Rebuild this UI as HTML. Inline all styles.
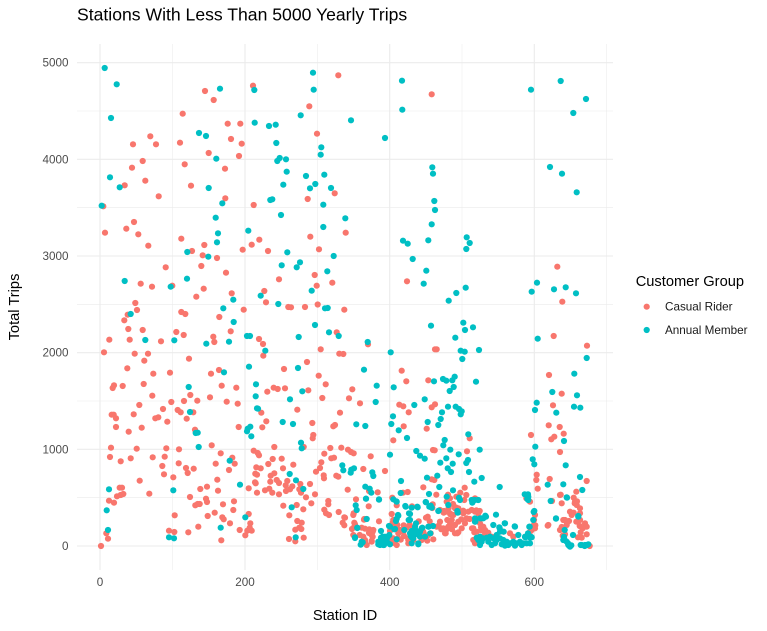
<!DOCTYPE html>
<html><head><meta charset="utf-8"><style>
html,body{margin:0;padding:0;background:#fff;}
svg{display:block;}
text{font-family:"Liberation Sans",sans-serif;}
</style></head><body>
<svg width="767" height="631" viewBox="0 0 767 631" xmlns="http://www.w3.org/2000/svg">
<rect width="767" height="631" fill="#fff"/>
<g stroke="#EBEBEB" stroke-width="0.55" fill="none">
<line x1="77" x2="613" y1="497.7" y2="497.7"/><line x1="77" x2="613" y1="401" y2="401"/><line x1="77" x2="613" y1="304.3" y2="304.3"/><line x1="77" x2="613" y1="207.7" y2="207.7"/><line x1="77" x2="613" y1="111" y2="111"/>
<line y1="44" y2="570" x1="172.3" x2="172.3"/><line y1="44" y2="570" x1="317.6" x2="317.6"/><line y1="44" y2="570" x1="462" x2="462"/><line y1="44" y2="570" x1="606.3" x2="606.3"/>
</g>
<g stroke="#EBEBEB" stroke-width="1.1" fill="none">
<line x1="77" x2="613" y1="546" y2="546"/><line x1="77" x2="613" y1="449.3" y2="449.3"/><line x1="77" x2="613" y1="352.7" y2="352.7"/><line x1="77" x2="613" y1="256" y2="256"/><line x1="77" x2="613" y1="159.3" y2="159.3"/><line x1="77" x2="613" y1="62.7" y2="62.7"/>
<line y1="44" y2="570" x1="100" x2="100"/><line y1="44" y2="570" x1="245" x2="245"/><line y1="44" y2="570" x1="389.7" x2="389.7"/><line y1="44" y2="570" x1="534.3" x2="534.3"/>
</g>
<g fill="#F8766D">
<circle cx="205" cy="91" r="3.1"/><circle cx="213.7" cy="100" r="3.1"/><circle cx="253" cy="85.7" r="3.1"/><circle cx="182.7" cy="113.7" r="3.1"/><circle cx="227.7" cy="123.7" r="3.1"/><circle cx="240.3" cy="123.7" r="3.1"/><circle cx="150.3" cy="136.3" r="3.1"/><circle cx="133" cy="144.3" r="3.1"/><circle cx="156" cy="144.3" r="3.1"/><circle cx="180" cy="142.7" r="3.1"/><circle cx="231" cy="139" r="3.1"/><circle cx="241.7" cy="143.7" r="3.1"/><circle cx="208.7" cy="153" r="3.1"/><circle cx="239" cy="156" r="3.1"/><circle cx="142.7" cy="161" r="3.1"/><circle cx="132" cy="167.7" r="3.1"/><circle cx="184.7" cy="164.3" r="3.1"/><circle cx="225" cy="168.7" r="3.1"/><circle cx="124.7" cy="185.3" r="3.1"/><circle cx="145.3" cy="180.7" r="3.1"/><circle cx="191" cy="185.7" r="3.1"/><circle cx="158.7" cy="196.3" r="3.1"/><circle cx="225.3" cy="198.3" r="3.1"/><circle cx="103.3" cy="206.3" r="3.1"/><circle cx="253.7" cy="205" r="3.1"/><circle cx="134" cy="222" r="3.1"/><circle cx="126.3" cy="228.7" r="3.1"/><circle cx="105" cy="232.7" r="3.1"/><circle cx="138.3" cy="234.3" r="3.1"/><circle cx="148.3" cy="245.7" r="3.1"/><circle cx="181.3" cy="238.7" r="3.1"/><circle cx="204.3" cy="245" r="3.1"/><circle cx="242.7" cy="249.7" r="3.1"/><circle cx="251.7" cy="244.7" r="3.1"/><circle cx="192" cy="251" r="3.1"/><circle cx="202.7" cy="255.3" r="3.1"/><circle cx="217" cy="258" r="3.1"/><circle cx="165.7" cy="267.3" r="3.1"/><circle cx="201.3" cy="266" r="3.1"/><circle cx="226" cy="272.7" r="3.1"/><circle cx="140.7" cy="283.7" r="3.1"/><circle cx="152" cy="286.7" r="3.1"/><circle cx="172.3" cy="285.7" r="3.1"/><circle cx="203.7" cy="288.7" r="3.1"/><circle cx="196.3" cy="296.7" r="3.1"/><circle cx="231.7" cy="293.3" r="3.1"/><circle cx="135.3" cy="303" r="3.1"/>
<circle cx="137" cy="310" r="3.1"/><circle cx="127.7" cy="314.7" r="3.1"/><circle cx="124.3" cy="320.3" r="3.1"/><circle cx="181.3" cy="312" r="3.1"/><circle cx="185.3" cy="314" r="3.1"/><circle cx="243.7" cy="309.7" r="3.1"/><circle cx="219.3" cy="317" r="3.1"/><circle cx="128.3" cy="329" r="3.1"/><circle cx="142.7" cy="330" r="3.1"/><circle cx="176.3" cy="332" r="3.1"/><circle cx="183.7" cy="335" r="3.1"/><circle cx="230.7" cy="331.3" r="3.1"/><circle cx="213.3" cy="336.7" r="3.1"/><circle cx="109.3" cy="339.7" r="3.1"/><circle cx="129.7" cy="339.7" r="3.1"/><circle cx="161" cy="341.3" r="3.1"/><circle cx="214.3" cy="342" r="3.1"/><circle cx="104" cy="352.3" r="3.1"/><circle cx="134.7" cy="353.7" r="3.1"/><circle cx="148" cy="353.7" r="3.1"/><circle cx="144.3" cy="360.7" r="3.1"/><circle cx="189" cy="358.7" r="3.1"/><circle cx="127.3" cy="368.3" r="3.1"/><circle cx="153.3" cy="373.7" r="3.1"/><circle cx="170" cy="372.7" r="3.1"/><circle cx="211" cy="373.7" r="3.1"/><circle cx="219" cy="370" r="3.1"/><circle cx="114" cy="385.3" r="3.1"/><circle cx="112.7" cy="388" r="3.1"/><circle cx="122.7" cy="386" r="3.1"/><circle cx="143.7" cy="384" r="3.1"/><circle cx="221.7" cy="385.7" r="3.1"/><circle cx="236.3" cy="387.7" r="3.1"/><circle cx="152.3" cy="395.7" r="3.1"/><circle cx="190.3" cy="395" r="3.1"/><circle cx="210" cy="397.3" r="3.1"/><circle cx="171.3" cy="402" r="3.1"/><circle cx="184" cy="401" r="3.1"/><circle cx="197.3" cy="400.7" r="3.1"/><circle cx="226.7" cy="401.7" r="3.1"/><circle cx="237.7" cy="403.7" r="3.1"/><circle cx="139.3" cy="405" r="3.1"/><circle cx="163" cy="409" r="3.1"/><circle cx="177.7" cy="410" r="3.1"/><circle cx="180.7" cy="412.3" r="3.1"/><circle cx="193.3" cy="412.3" r="3.1"/><circle cx="111.7" cy="414.7" r="3.1"/><circle cx="113.7" cy="414.7" r="3.1"/><circle cx="116" cy="418.3" r="3.1"/><circle cx="133.7" cy="414.3" r="3.1"/><circle cx="155.3" cy="418.3" r="3.1"/><circle cx="158.3" cy="417.3" r="3.1"/><circle cx="186.7" cy="418.7" r="3.1"/><circle cx="167.3" cy="421.7" r="3.1"/><circle cx="116" cy="427" r="3.1"/><circle cx="128.7" cy="431.7" r="3.1"/><circle cx="141.7" cy="427.7" r="3.1"/><circle cx="195" cy="429.7" r="3.1"/><circle cx="238.7" cy="427" r="3.1"/><circle cx="111" cy="447.7" r="3.1"/><circle cx="136.7" cy="448.7" r="3.1"/><circle cx="166.3" cy="448.3" r="3.1"/><circle cx="179" cy="449.3" r="3.1"/><circle cx="211.7" cy="445.3" r="3.1"/><circle cx="253.7" cy="450.7" r="3.1"/><circle cx="110" cy="457" r="3.1"/><circle cx="120.7" cy="461.3" r="3.1"/><circle cx="130.7" cy="458.3" r="3.1"/><circle cx="152.7" cy="457.3" r="3.1"/><circle cx="164.7" cy="456.7" r="3.1"/><circle cx="178.7" cy="463.3" r="3.1"/><circle cx="162.3" cy="466" r="3.1"/><circle cx="186" cy="468" r="3.1"/><circle cx="193.7" cy="468.7" r="3.1"/><circle cx="187.7" cy="473" r="3.1"/><circle cx="164" cy="474.3" r="3.1"/><circle cx="173.3" cy="477.3" r="3.1"/><circle cx="220.7" cy="453.3" r="3.1"/><circle cx="215.7" cy="463.7" r="3.1"/><circle cx="232.3" cy="457.7" r="3.1"/><circle cx="234.7" cy="463.7" r="3.1"/><circle cx="229" cy="470" r="3.1"/><circle cx="255.3" cy="473.7" r="3.1"/><circle cx="139.7" cy="480.7" r="3.1"/><circle cx="217.3" cy="479.7" r="3.1"/><circle cx="255.7" cy="483.3" r="3.1"/><circle cx="119.7" cy="487.7" r="3.1"/><circle cx="122" cy="487.7" r="3.1"/><circle cx="117" cy="496.3" r="3.1"/><circle cx="120.7" cy="495" r="3.1"/><circle cx="123.3" cy="494" r="3.1"/><circle cx="149.3" cy="493.7" r="3.1"/><circle cx="200.3" cy="489" r="3.1"/><circle cx="207" cy="486.7" r="3.1"/><circle cx="218" cy="490.7" r="3.1"/><circle cx="248.7" cy="488.3" r="3.1"/><circle cx="190" cy="497" r="3.1"/><circle cx="206" cy="498.7" r="3.1"/><circle cx="207" cy="502" r="3.1"/><circle cx="195.3" cy="505.3" r="3.1"/><circle cx="197.7" cy="504" r="3.1"/><circle cx="199.7" cy="504" r="3.1"/><circle cx="223" cy="504.3" r="3.1"/><circle cx="234" cy="501.3" r="3.1"/><circle cx="109" cy="500.7" r="3.1"/><circle cx="114" cy="502.7" r="3.1"/><circle cx="233.3" cy="510" r="3.1"/><circle cx="174.7" cy="515.3" r="3.1"/><circle cx="214.7" cy="512.7" r="3.1"/><circle cx="207.7" cy="516" r="3.1"/><circle cx="222.3" cy="517.3" r="3.1"/><circle cx="223.7" cy="519.3" r="3.1"/><circle cx="230" cy="523.3" r="3.1"/><circle cx="248.7" cy="514" r="3.1"/><circle cx="250.3" cy="523.3" r="3.1"/><circle cx="249.7" cy="527.7" r="3.1"/><circle cx="251.7" cy="530.7" r="3.1"/><circle cx="247.3" cy="530.7" r="3.1"/><circle cx="245.3" cy="535.3" r="3.1"/><circle cx="198.3" cy="526.7" r="3.1"/><circle cx="239.7" cy="530" r="3.1"/><circle cx="106.3" cy="533.3" r="3.1"/><circle cx="108" cy="538.7" r="3.1"/><circle cx="169" cy="530.7" r="3.1"/><circle cx="174.3" cy="532" r="3.1"/><circle cx="188.3" cy="532.3" r="3.1"/><circle cx="221.3" cy="540.3" r="3.1"/><circle cx="101" cy="546" r="3.1"/>
<circle cx="338.3" cy="75.3" r="3.1"/><circle cx="309.3" cy="106.3" r="3.1"/><circle cx="317" cy="133.7" r="3.1"/><circle cx="431.7" cy="94.3" r="3.1"/><circle cx="334.7" cy="193.3" r="3.1"/><circle cx="307.7" cy="199" r="3.1"/><circle cx="345.7" cy="232.7" r="3.1"/><circle cx="259.3" cy="239.7" r="3.1"/><circle cx="310.3" cy="236.7" r="3.1"/><circle cx="268" cy="251" r="3.1"/><circle cx="319" cy="249.3" r="3.1"/><circle cx="314.7" cy="275" r="3.1"/><circle cx="279" cy="279.3" r="3.1"/><circle cx="316.7" cy="285.7" r="3.1"/><circle cx="332.3" cy="282.7" r="3.1"/><circle cx="407" cy="281.3" r="3.1"/><circle cx="264.3" cy="291" r="3.1"/><circle cx="266" cy="302.3" r="3.1"/><circle cx="317.7" cy="304.5" r="3.1"/>
<circle cx="288.3" cy="307" r="3.1"/><circle cx="291" cy="307.3" r="3.1"/><circle cx="305" cy="307" r="3.1"/><circle cx="344.3" cy="309.7" r="3.1"/><circle cx="336.7" cy="332.3" r="3.1"/><circle cx="259" cy="339" r="3.1"/><circle cx="263" cy="344" r="3.1"/><circle cx="263.3" cy="355.7" r="3.1"/><circle cx="368" cy="344.3" r="3.1"/><circle cx="320.7" cy="349.3" r="3.1"/><circle cx="339.3" cy="353.7" r="3.1"/><circle cx="343.3" cy="354" r="3.1"/><circle cx="435" cy="349.3" r="3.1"/><circle cx="307" cy="362" r="3.1"/><circle cx="284" cy="369" r="3.1"/><circle cx="401.7" cy="370.7" r="3.1"/><circle cx="318.7" cy="375.7" r="3.1"/><circle cx="406.3" cy="381.3" r="3.1"/><circle cx="428.3" cy="380.3" r="3.1"/><circle cx="267.3" cy="391.7" r="3.1"/><circle cx="273.7" cy="387.7" r="3.1"/><circle cx="277.7" cy="389" r="3.1"/><circle cx="285" cy="388.3" r="3.1"/><circle cx="308.3" cy="390.3" r="3.1"/><circle cx="325.7" cy="384.3" r="3.1"/><circle cx="352.3" cy="389.3" r="3.1"/><circle cx="322.3" cy="398" r="3.1"/><circle cx="349" cy="398.3" r="3.1"/><circle cx="360" cy="403.3" r="3.1"/><circle cx="297.3" cy="409.7" r="3.1"/><circle cx="261.3" cy="412.7" r="3.1"/><circle cx="340" cy="412.7" r="3.1"/><circle cx="399.3" cy="404.7" r="3.1"/><circle cx="403.3" cy="406.3" r="3.1"/><circle cx="408.7" cy="412.3" r="3.1"/><circle cx="431.7" cy="407.3" r="3.1"/><circle cx="266.3" cy="421.3" r="3.1"/><circle cx="262.3" cy="427.3" r="3.1"/><circle cx="312.3" cy="423" r="3.1"/><circle cx="333.3" cy="426.3" r="3.1"/><circle cx="335" cy="425" r="3.1"/><circle cx="403.7" cy="426.3" r="3.1"/><circle cx="426.7" cy="428.7" r="3.1"/><circle cx="313.3" cy="435" r="3.1"/><circle cx="312.7" cy="438.3" r="3.1"/><circle cx="393.3" cy="440.3" r="3.1"/><circle cx="303.7" cy="447" r="3.1"/><circle cx="274.3" cy="447" r="3.1"/><circle cx="257.7" cy="453" r="3.1"/><circle cx="259" cy="455.3" r="3.1"/><circle cx="330.3" cy="448" r="3.1"/><circle cx="341.3" cy="447.7" r="3.1"/><circle cx="348" cy="449.7" r="3.1"/><circle cx="351" cy="452" r="3.1"/><circle cx="353.7" cy="453.3" r="3.1"/><circle cx="324.3" cy="453.7" r="3.1"/><circle cx="370.7" cy="456.3" r="3.1"/><circle cx="433" cy="450" r="3.1"/><circle cx="272.7" cy="459" r="3.1"/><circle cx="281.7" cy="458.7" r="3.1"/><circle cx="331.3" cy="458.3" r="3.1"/><circle cx="334" cy="457.7" r="3.1"/><circle cx="321.3" cy="462.3" r="3.1"/><circle cx="320" cy="468" r="3.1"/><circle cx="268.3" cy="464" r="3.1"/><circle cx="256.3" cy="467.3" r="3.1"/><circle cx="260.7" cy="468.3" r="3.1"/><circle cx="283" cy="468.3" r="3.1"/><circle cx="293.3" cy="464.7" r="3.1"/><circle cx="363.3" cy="469" r="3.1"/><circle cx="385" cy="471" r="3.1"/><circle cx="336.3" cy="475.7" r="3.1"/><circle cx="338.3" cy="476.7" r="3.1"/><circle cx="316" cy="471.7" r="3.1"/><circle cx="323.7" cy="475.3" r="3.1"/><circle cx="324" cy="478.3" r="3.1"/><circle cx="274.3" cy="473.3" r="3.1"/><circle cx="270.7" cy="475.7" r="3.1"/><circle cx="257" cy="474.7" r="3.1"/><circle cx="255" cy="482.3" r="3.1"/><circle cx="276.7" cy="480" r="3.1"/><circle cx="270.3" cy="481.7" r="3.1"/><circle cx="279" cy="483" r="3.1"/><circle cx="287.3" cy="481" r="3.1"/><circle cx="285.7" cy="485.3" r="3.1"/><circle cx="300.3" cy="484" r="3.1"/><circle cx="310" cy="484" r="3.1"/><circle cx="431.7" cy="479.3" r="3.1"/><circle cx="257" cy="492.7" r="3.1"/><circle cx="265" cy="490.3" r="3.1"/><circle cx="269.3" cy="488.7" r="3.1"/><circle cx="272.3" cy="492.7" r="3.1"/><circle cx="279" cy="494.3" r="3.1"/><circle cx="286" cy="491" r="3.1"/><circle cx="290" cy="489.3" r="3.1"/><circle cx="292.3" cy="486.3" r="3.1"/><circle cx="299.3" cy="489.3" r="3.1"/><circle cx="301" cy="492.7" r="3.1"/><circle cx="315" cy="494.3" r="3.1"/><circle cx="347.7" cy="489.7" r="3.1"/><circle cx="369" cy="491" r="3.1"/><circle cx="377.7" cy="492.3" r="3.1"/><circle cx="407.7" cy="492" r="3.1"/><circle cx="403" cy="492.7" r="3.1"/><circle cx="423.3" cy="487.3" r="3.1"/><circle cx="306" cy="497.3" r="3.1"/><circle cx="392.3" cy="497.7" r="3.1"/><circle cx="283.3" cy="505.7" r="3.1"/><circle cx="296.7" cy="505" r="3.1"/><circle cx="303.3" cy="509.3" r="3.1"/><circle cx="311.3" cy="503.3" r="3.1"/><circle cx="328.3" cy="501" r="3.1"/><circle cx="328.3" cy="504.3" r="3.1"/><circle cx="368.7" cy="506.3" r="3.1"/><circle cx="412" cy="506.3" r="3.1"/><circle cx="432.3" cy="508" r="3.1"/><circle cx="324.3" cy="509.7" r="3.1"/><circle cx="326" cy="513.3" r="3.1"/><circle cx="329" cy="515" r="3.1"/><circle cx="289.3" cy="515.3" r="3.1"/><circle cx="338.7" cy="512" r="3.1"/><circle cx="344.3" cy="517.3" r="3.1"/><circle cx="342.7" cy="522.7" r="3.1"/><circle cx="344.3" cy="525.3" r="3.1"/><circle cx="353.7" cy="513.3" r="3.1"/><circle cx="297.3" cy="521" r="3.1"/><circle cx="301.7" cy="522.7" r="3.1"/><circle cx="299.3" cy="527.7" r="3.1"/><circle cx="295.3" cy="529.7" r="3.1"/><circle cx="301.3" cy="529" r="3.1"/><circle cx="354.3" cy="522.7" r="3.1"/><circle cx="364" cy="519.7" r="3.1"/><circle cx="379" cy="521.3" r="3.1"/><circle cx="392.7" cy="522.7" r="3.1"/><circle cx="390" cy="527" r="3.1"/><circle cx="403.7" cy="525.3" r="3.1"/><circle cx="418.7" cy="521.3" r="3.1"/><circle cx="427.7" cy="516.7" r="3.1"/><circle cx="429.7" cy="521.3" r="3.1"/><circle cx="352" cy="529" r="3.1"/><circle cx="353.3" cy="535" r="3.1"/><circle cx="359.7" cy="535" r="3.1"/><circle cx="365" cy="528.7" r="3.1"/><circle cx="369" cy="533" r="3.1"/><circle cx="371.7" cy="535" r="3.1"/><circle cx="373.3" cy="530" r="3.1"/><circle cx="365" cy="540" r="3.1"/><circle cx="371.7" cy="540.7" r="3.1"/><circle cx="390" cy="531" r="3.1"/><circle cx="391.7" cy="541.3" r="3.1"/><circle cx="396.7" cy="545" r="3.1"/><circle cx="400.7" cy="539.7" r="3.1"/><circle cx="289" cy="539" r="3.1"/><circle cx="295.3" cy="541.3" r="3.1"/><circle cx="303.7" cy="537.7" r="3.1"/><circle cx="400.3" cy="530" r="3.1"/><circle cx="406.7" cy="527.7" r="3.1"/><circle cx="409.7" cy="525" r="3.1"/><circle cx="413" cy="529.3" r="3.1"/><circle cx="420" cy="534.3" r="3.1"/><circle cx="423.3" cy="531.7" r="3.1"/><circle cx="428.3" cy="535" r="3.1"/><circle cx="430.7" cy="533.3" r="3.1"/><circle cx="404" cy="536" r="3.1"/><circle cx="408.3" cy="540" r="3.1"/><circle cx="413.3" cy="540" r="3.1"/><circle cx="421.7" cy="540" r="3.1"/><circle cx="427.3" cy="540.7" r="3.1"/><circle cx="433.3" cy="539.3" r="3.1"/><circle cx="394.3" cy="543" r="3.1"/>
<circle cx="356" cy="499.3" r="3.1"/><circle cx="345" cy="517.7" r="3.1"/><circle cx="353.3" cy="515" r="3.1"/><circle cx="354" cy="527.3" r="3.1"/><circle cx="355" cy="524.3" r="3.1"/><circle cx="364.3" cy="519" r="3.1"/><circle cx="361.7" cy="527.7" r="3.1"/><circle cx="369.3" cy="529.3" r="3.1"/><circle cx="370" cy="533.3" r="3.1"/><circle cx="372.7" cy="531.7" r="3.1"/><circle cx="363.3" cy="536.7" r="3.1"/><circle cx="372.7" cy="536.7" r="3.1"/><circle cx="371.7" cy="541.7" r="3.1"/><circle cx="365" cy="542" r="3.1"/><circle cx="366.7" cy="545" r="3.1"/><circle cx="396.7" cy="505.3" r="3.1"/><circle cx="391.7" cy="514" r="3.1"/><circle cx="393.3" cy="520" r="3.1"/><circle cx="393.3" cy="525" r="3.1"/><circle cx="397.3" cy="525" r="3.1"/><circle cx="403.3" cy="531.7" r="3.1"/><circle cx="398.3" cy="533.3" r="3.1"/><circle cx="393.3" cy="538.3" r="3.1"/><circle cx="398.3" cy="538.3" r="3.1"/><circle cx="390.7" cy="541.7" r="3.1"/><circle cx="415" cy="534.3" r="3.1"/><circle cx="408.3" cy="538.3" r="3.1"/><circle cx="408.3" cy="543.3" r="3.1"/><circle cx="426" cy="517.7" r="3.1"/><circle cx="421.7" cy="538.3" r="3.1"/><circle cx="432.7" cy="504.3" r="3.1"/>
<circle cx="557.3" cy="266.7" r="3.1"/><circle cx="562.3" cy="301.7" r="3.1"/><circle cx="553.7" cy="336" r="3.1"/><circle cx="587" cy="345.7" r="3.1"/><circle cx="436.7" cy="349.3" r="3.1"/><circle cx="549" cy="375" r="3.1"/><circle cx="561.7" cy="393.7" r="3.1"/><circle cx="435" cy="404.3" r="3.1"/><circle cx="553" cy="405.3" r="3.1"/><circle cx="548.7" cy="425.3" r="3.1"/><circle cx="559.7" cy="427" r="3.1"/><circle cx="531" cy="435" r="3.1"/><circle cx="551.3" cy="439.3" r="3.1"/><circle cx="554.3" cy="436.7" r="3.1"/><circle cx="563.7" cy="433.7" r="3.1"/><circle cx="469.7" cy="438.3" r="3.1"/><circle cx="434.7" cy="450.3" r="3.1"/><circle cx="560" cy="452" r="3.1"/><circle cx="467" cy="451.3" r="3.1"/><circle cx="536.7" cy="474.7" r="3.1"/><circle cx="536.3" cy="480" r="3.1"/><circle cx="549.7" cy="479" r="3.1"/><circle cx="586.7" cy="481" r="3.1"/><circle cx="434.3" cy="480" r="3.1"/><circle cx="537.7" cy="488.7" r="3.1"/><circle cx="576.3" cy="491.7" r="3.1"/><circle cx="560.7" cy="494.7" r="3.1"/><circle cx="436.3" cy="494.7" r="3.1"/><circle cx="448" cy="494.7" r="3.1"/><circle cx="464.7" cy="487.7" r="3.1"/><circle cx="466.3" cy="495" r="3.1"/><circle cx="460.3" cy="492.7" r="3.1"/><circle cx="456.3" cy="496.7" r="3.1"/><circle cx="526.3" cy="498.3" r="3.1"/><circle cx="552" cy="501" r="3.1"/><circle cx="573.7" cy="497.7" r="3.1"/><circle cx="577" cy="501.3" r="3.1"/><circle cx="574.7" cy="503.3" r="3.1"/><circle cx="580" cy="508.3" r="3.1"/><circle cx="573.7" cy="512.7" r="3.1"/><circle cx="453" cy="504" r="3.1"/><circle cx="455.7" cy="507.3" r="3.1"/><circle cx="448.7" cy="508" r="3.1"/><circle cx="443.7" cy="512.7" r="3.1"/><circle cx="450.3" cy="514.3" r="3.1"/><circle cx="458.7" cy="512.3" r="3.1"/><circle cx="463.3" cy="510.7" r="3.1"/><circle cx="476.3" cy="510.3" r="3.1"/><circle cx="479.7" cy="511" r="3.1"/><circle cx="467" cy="518.7" r="3.1"/><circle cx="469.7" cy="519" r="3.1"/><circle cx="461.3" cy="519.3" r="3.1"/><circle cx="569" cy="521" r="3.1"/><circle cx="565" cy="520" r="3.1"/><circle cx="576.3" cy="521.7" r="3.1"/><circle cx="534" cy="520" r="3.1"/><circle cx="535.3" cy="525.3" r="3.1"/><circle cx="547.7" cy="525.7" r="3.1"/><circle cx="561.7" cy="527" r="3.1"/><circle cx="579.7" cy="526" r="3.1"/><circle cx="472" cy="528.3" r="3.1"/><circle cx="474.3" cy="532.3" r="3.1"/><circle cx="481" cy="527.3" r="3.1"/><circle cx="481.3" cy="530.3" r="3.1"/><circle cx="484.7" cy="535" r="3.1"/><circle cx="476.3" cy="540" r="3.1"/><circle cx="438.7" cy="525.7" r="3.1"/><circle cx="441.3" cy="529.3" r="3.1"/><circle cx="446.7" cy="529.3" r="3.1"/><circle cx="452" cy="529.3" r="3.1"/><circle cx="457.3" cy="533.3" r="3.1"/><circle cx="445.7" cy="533.3" r="3.1"/><circle cx="562.7" cy="535.7" r="3.1"/><circle cx="580.7" cy="532.3" r="3.1"/><circle cx="578" cy="537.3" r="3.1"/><circle cx="589.7" cy="546" r="3.1"/>
<circle cx="440" cy="510" r="3.1"/><circle cx="444" cy="511" r="3.1"/><circle cx="446.7" cy="511.7" r="3.1"/><circle cx="450" cy="513.3" r="3.1"/><circle cx="453.3" cy="515" r="3.1"/><circle cx="447.3" cy="520" r="3.1"/><circle cx="451.7" cy="520" r="3.1"/><circle cx="450" cy="524.3" r="3.1"/><circle cx="455" cy="525" r="3.1"/><circle cx="458.3" cy="521.7" r="3.1"/><circle cx="440" cy="521.7" r="3.1"/><circle cx="436.7" cy="526.7" r="3.1"/><circle cx="443.3" cy="528.3" r="3.1"/><circle cx="448.3" cy="526.7" r="3.1"/><circle cx="445" cy="533.3" r="3.1"/><circle cx="455" cy="533.3" r="3.1"/><circle cx="458.3" cy="532.3" r="3.1"/><circle cx="461.7" cy="528.3" r="3.1"/><circle cx="465" cy="523.3" r="3.1"/><circle cx="466.7" cy="518.3" r="3.1"/><circle cx="468.3" cy="511.7" r="3.1"/><circle cx="463.3" cy="513.3" r="3.1"/><circle cx="471.7" cy="510" r="3.1"/><circle cx="475" cy="511.7" r="3.1"/><circle cx="458.3" cy="508.3" r="3.1"/><circle cx="455" cy="508.3" r="3.1"/><circle cx="450" cy="498.3" r="3.1"/><circle cx="446.7" cy="501.7" r="3.1"/><circle cx="464.3" cy="500" r="3.1"/><circle cx="475" cy="498.3" r="3.1"/>
<circle cx="478.3" cy="513.3" r="3.1"/><circle cx="473.3" cy="528.3" r="3.1"/><circle cx="476.7" cy="531.7" r="3.1"/><circle cx="480" cy="523.3" r="3.1"/><circle cx="483.3" cy="526.7" r="3.1"/><circle cx="485" cy="530" r="3.1"/><circle cx="488.3" cy="532.7" r="3.1"/><circle cx="491.7" cy="536.7" r="3.1"/><circle cx="503.3" cy="531.7" r="3.1"/><circle cx="510" cy="533.3" r="3.1"/><circle cx="473.3" cy="540" r="3.1"/><circle cx="475" cy="543.3" r="3.1"/><circle cx="513.3" cy="536.7" r="3.1"/><circle cx="530" cy="501.7" r="3.1"/><circle cx="535" cy="515" r="3.1"/><circle cx="534" cy="525" r="3.1"/><circle cx="531.7" cy="530" r="3.1"/><circle cx="535" cy="528.3" r="3.1"/><circle cx="530" cy="531.7" r="3.1"/><circle cx="560" cy="495" r="3.1"/><circle cx="561.7" cy="503.3" r="3.1"/><circle cx="575" cy="501.7" r="3.1"/><circle cx="576.7" cy="505" r="3.1"/><circle cx="570" cy="511.7" r="3.1"/><circle cx="571.7" cy="515" r="3.1"/><circle cx="580" cy="513.3" r="3.1"/><circle cx="580" cy="520" r="3.1"/><circle cx="585" cy="523.3" r="3.1"/><circle cx="586.7" cy="526.7" r="3.1"/><circle cx="582.7" cy="528.3" r="3.1"/><circle cx="586.7" cy="534.3" r="3.1"/><circle cx="581.7" cy="537.7" r="3.1"/><circle cx="563.3" cy="520" r="3.1"/><circle cx="566.7" cy="521.7" r="3.1"/><circle cx="566.7" cy="525" r="3.1"/><circle cx="560" cy="530" r="3.1"/><circle cx="565" cy="534.3" r="3.1"/><circle cx="548.3" cy="525" r="3.1"/><circle cx="588.3" cy="545" r="3.1"/>
</g>
<g fill="#00BFC4">
<circle cx="104.7" cy="68" r="3.1"/><circle cx="116.7" cy="84.3" r="3.1"/><circle cx="220" cy="88.7" r="3.1"/><circle cx="254.3" cy="90" r="3.1"/><circle cx="111" cy="118" r="3.1"/><circle cx="254.7" cy="122.7" r="3.1"/><circle cx="199" cy="133" r="3.1"/><circle cx="206" cy="136" r="3.1"/><circle cx="216.3" cy="158.7" r="3.1"/><circle cx="110" cy="177.3" r="3.1"/><circle cx="119.7" cy="187.3" r="3.1"/><circle cx="208.7" cy="188" r="3.1"/><circle cx="222.3" cy="203.3" r="3.1"/><circle cx="101.7" cy="205.7" r="3.1"/><circle cx="215.7" cy="217.7" r="3.1"/><circle cx="218" cy="233.3" r="3.1"/><circle cx="248.3" cy="230.7" r="3.1"/><circle cx="217" cy="242.3" r="3.1"/><circle cx="187.3" cy="252" r="3.1"/><circle cx="208.3" cy="256.7" r="3.1"/><circle cx="124.7" cy="281" r="3.1"/><circle cx="170.7" cy="286.7" r="3.1"/><circle cx="187" cy="278.7" r="3.1"/><circle cx="233.3" cy="299.7" r="3.1"/>
<circle cx="130.7" cy="314" r="3.1"/><circle cx="223.3" cy="308.3" r="3.1"/><circle cx="233.7" cy="322" r="3.1"/><circle cx="247" cy="336" r="3.1"/><circle cx="250" cy="336" r="3.1"/><circle cx="145.3" cy="340" r="3.1"/><circle cx="174.3" cy="340.3" r="3.1"/><circle cx="206.3" cy="343.7" r="3.1"/><circle cx="229" cy="341.7" r="3.1"/><circle cx="224" cy="372.3" r="3.1"/><circle cx="249" cy="366.7" r="3.1"/><circle cx="188.7" cy="387" r="3.1"/><circle cx="256" cy="384.3" r="3.1"/><circle cx="255.7" cy="396.3" r="3.1"/><circle cx="190" cy="412" r="3.1"/><circle cx="257" cy="408.3" r="3.1"/><circle cx="195.7" cy="433" r="3.1"/><circle cx="197.7" cy="432.7" r="3.1"/><circle cx="247.7" cy="428.7" r="3.1"/><circle cx="250.3" cy="426.7" r="3.1"/><circle cx="247" cy="431.3" r="3.1"/><circle cx="251.3" cy="436.3" r="3.1"/><circle cx="198.7" cy="447" r="3.1"/><circle cx="229.7" cy="460.7" r="3.1"/><circle cx="240" cy="484.7" r="3.1"/><circle cx="109" cy="489.3" r="3.1"/><circle cx="173.3" cy="490.3" r="3.1"/><circle cx="106.7" cy="510.3" r="3.1"/><circle cx="245.3" cy="517.3" r="3.1"/><circle cx="220.7" cy="527.7" r="3.1"/><circle cx="108" cy="530" r="3.1"/><circle cx="169" cy="537.3" r="3.1"/><circle cx="174" cy="538.3" r="3.1"/>
<circle cx="313" cy="72.7" r="3.1"/><circle cx="313.7" cy="89.7" r="3.1"/><circle cx="300.7" cy="115.3" r="3.1"/><circle cx="269" cy="126" r="3.1"/><circle cx="275.7" cy="124.7" r="3.1"/><circle cx="351" cy="120.3" r="3.1"/><circle cx="276.3" cy="143" r="3.1"/><circle cx="321.3" cy="147.3" r="3.1"/><circle cx="320.7" cy="154.7" r="3.1"/><circle cx="385" cy="138" r="3.1"/><circle cx="402" cy="80.7" r="3.1"/><circle cx="402.3" cy="109.7" r="3.1"/><circle cx="277.3" cy="161" r="3.1"/><circle cx="279.7" cy="158" r="3.1"/><circle cx="286" cy="159.3" r="3.1"/><circle cx="286.7" cy="171.7" r="3.1"/><circle cx="306" cy="176" r="3.1"/><circle cx="324.3" cy="174.7" r="3.1"/><circle cx="283.3" cy="184.7" r="3.1"/><circle cx="310" cy="188.3" r="3.1"/><circle cx="315.3" cy="184" r="3.1"/><circle cx="331" cy="188" r="3.1"/><circle cx="270.3" cy="200" r="3.1"/><circle cx="272.3" cy="199.3" r="3.1"/><circle cx="323.3" cy="204.7" r="3.1"/><circle cx="432.3" cy="167.3" r="3.1"/><circle cx="433" cy="173.7" r="3.1"/><circle cx="434.3" cy="201" r="3.1"/><circle cx="435" cy="210" r="3.1"/><circle cx="281" cy="215" r="3.1"/><circle cx="345.3" cy="218.3" r="3.1"/><circle cx="323.3" cy="227" r="3.1"/><circle cx="431.7" cy="224.3" r="3.1"/><circle cx="403" cy="240.7" r="3.1"/><circle cx="407.7" cy="243.7" r="3.1"/><circle cx="428.3" cy="240.3" r="3.1"/><circle cx="287.3" cy="252.3" r="3.1"/><circle cx="333.7" cy="256" r="3.1"/><circle cx="412.7" cy="259" r="3.1"/><circle cx="281.7" cy="265.3" r="3.1"/><circle cx="296.7" cy="267.3" r="3.1"/><circle cx="300" cy="262.3" r="3.1"/><circle cx="327.3" cy="271.3" r="3.1"/><circle cx="311.7" cy="290.7" r="3.1"/><circle cx="426.3" cy="270.7" r="3.1"/><circle cx="423.7" cy="283.7" r="3.1"/><circle cx="260.7" cy="295.7" r="3.1"/><circle cx="278.3" cy="304" r="3.1"/>
<circle cx="325" cy="308.3" r="3.1"/><circle cx="327.7" cy="308" r="3.1"/><circle cx="315" cy="325" r="3.1"/><circle cx="298.7" cy="337" r="3.1"/><circle cx="329" cy="332.3" r="3.1"/><circle cx="338.7" cy="336" r="3.1"/><circle cx="265.3" cy="350.7" r="3.1"/><circle cx="367.7" cy="342" r="3.1"/><circle cx="431" cy="325.7" r="3.1"/><circle cx="390.7" cy="352.3" r="3.1"/><circle cx="298" cy="368" r="3.1"/><circle cx="364" cy="369.7" r="3.1"/><circle cx="434" cy="381.3" r="3.1"/><circle cx="302.3" cy="391.3" r="3.1"/><circle cx="376.7" cy="385.7" r="3.1"/><circle cx="393.7" cy="387.3" r="3.1"/><circle cx="290" cy="399.3" r="3.1"/><circle cx="375.7" cy="402" r="3.1"/><circle cx="258" cy="408.7" r="3.1"/><circle cx="414.3" cy="405" r="3.1"/><circle cx="424.7" cy="399.3" r="3.1"/><circle cx="393" cy="416.3" r="3.1"/><circle cx="282.7" cy="422" r="3.1"/><circle cx="293" cy="424" r="3.1"/><circle cx="356.3" cy="424.3" r="3.1"/><circle cx="365.3" cy="426" r="3.1"/><circle cx="391.3" cy="424" r="3.1"/><circle cx="398.7" cy="430.3" r="3.1"/><circle cx="427.7" cy="422" r="3.1"/><circle cx="407" cy="438" r="3.1"/><circle cx="301" cy="442.7" r="3.1"/><circle cx="301.7" cy="448.3" r="3.1"/><circle cx="390" cy="454.7" r="3.1"/><circle cx="416.3" cy="451" r="3.1"/><circle cx="420" cy="455.7" r="3.1"/><circle cx="424.7" cy="458.7" r="3.1"/><circle cx="342.3" cy="465.3" r="3.1"/><circle cx="343.3" cy="470.3" r="3.1"/><circle cx="351.3" cy="469.7" r="3.1"/><circle cx="354" cy="468.3" r="3.1"/><circle cx="350.7" cy="472.7" r="3.1"/><circle cx="372.3" cy="472.3" r="3.1"/><circle cx="373.3" cy="476" r="3.1"/><circle cx="289.7" cy="474" r="3.1"/><circle cx="296" cy="480.3" r="3.1"/><circle cx="401" cy="481" r="3.1"/><circle cx="427" cy="477.7" r="3.1"/><circle cx="303.3" cy="489" r="3.1"/><circle cx="365.3" cy="486.7" r="3.1"/><circle cx="369.7" cy="488.7" r="3.1"/><circle cx="371.3" cy="492.7" r="3.1"/><circle cx="400.7" cy="493" r="3.1"/><circle cx="429" cy="494" r="3.1"/><circle cx="366" cy="498.7" r="3.1"/><circle cx="379" cy="499.7" r="3.1"/><circle cx="396.3" cy="501.3" r="3.1"/><circle cx="425.7" cy="502" r="3.1"/><circle cx="291.7" cy="507.3" r="3.1"/><circle cx="355.7" cy="505.3" r="3.1"/><circle cx="356.7" cy="510" r="3.1"/><circle cx="405.3" cy="506" r="3.1"/><circle cx="409" cy="513.3" r="3.1"/><circle cx="417.3" cy="506.7" r="3.1"/><circle cx="430.7" cy="505.7" r="3.1"/><circle cx="366.7" cy="519" r="3.1"/><circle cx="396.7" cy="518.7" r="3.1"/><circle cx="398" cy="515" r="3.1"/><circle cx="408.7" cy="520" r="3.1"/><circle cx="416" cy="523.3" r="3.1"/><circle cx="357.3" cy="527.7" r="3.1"/><circle cx="355" cy="537.3" r="3.1"/><circle cx="360.7" cy="544.7" r="3.1"/><circle cx="362.7" cy="542.3" r="3.1"/><circle cx="381" cy="531" r="3.1"/><circle cx="378.3" cy="544.3" r="3.1"/><circle cx="381.7" cy="541.7" r="3.1"/><circle cx="384" cy="545" r="3.1"/><circle cx="387.7" cy="542.7" r="3.1"/><circle cx="381" cy="537.7" r="3.1"/><circle cx="385" cy="536.7" r="3.1"/><circle cx="395" cy="529" r="3.1"/><circle cx="396.7" cy="539.3" r="3.1"/><circle cx="389" cy="526" r="3.1"/><circle cx="295.7" cy="537.3" r="3.1"/><circle cx="404.3" cy="530" r="3.1"/><circle cx="410" cy="533.3" r="3.1"/><circle cx="411.7" cy="537.3" r="3.1"/><circle cx="414.3" cy="535" r="3.1"/><circle cx="416.7" cy="531" r="3.1"/><circle cx="420" cy="536.7" r="3.1"/><circle cx="418.3" cy="543.3" r="3.1"/><circle cx="422.3" cy="527.7" r="3.1"/><circle cx="428.3" cy="526.7" r="3.1"/><circle cx="425" cy="536.7" r="3.1"/><circle cx="430.3" cy="533.3" r="3.1"/>
<circle cx="531" cy="89.7" r="3.1"/><circle cx="560.7" cy="81" r="3.1"/><circle cx="586" cy="99" r="3.1"/><circle cx="573.3" cy="113" r="3.1"/><circle cx="550" cy="167" r="3.1"/><circle cx="562" cy="173.7" r="3.1"/><circle cx="576.7" cy="192.3" r="3.1"/><circle cx="466.7" cy="237.3" r="3.1"/><circle cx="469.7" cy="243" r="3.1"/><circle cx="466.3" cy="249" r="3.1"/><circle cx="537" cy="282.7" r="3.1"/><circle cx="531.7" cy="291.7" r="3.1"/><circle cx="554" cy="289.3" r="3.1"/><circle cx="565.7" cy="287.3" r="3.1"/><circle cx="576" cy="293.3" r="3.1"/><circle cx="456.3" cy="293" r="3.1"/><circle cx="465.7" cy="287.7" r="3.1"/><circle cx="448.7" cy="300.7" r="3.1"/>
<circle cx="463.3" cy="322.7" r="3.1"/><circle cx="465" cy="330" r="3.1"/><circle cx="473" cy="327.3" r="3.1"/><circle cx="455.3" cy="337.7" r="3.1"/><circle cx="537.7" cy="338.7" r="3.1"/><circle cx="460.7" cy="350.7" r="3.1"/><circle cx="464.7" cy="351.7" r="3.1"/><circle cx="462.3" cy="359" r="3.1"/><circle cx="479" cy="350" r="3.1"/><circle cx="586.7" cy="358" r="3.1"/><circle cx="574.3" cy="373.7" r="3.1"/><circle cx="443" cy="379" r="3.1"/><circle cx="446.3" cy="380.7" r="3.1"/><circle cx="452.3" cy="380.3" r="3.1"/><circle cx="454.7" cy="376.7" r="3.1"/><circle cx="453.7" cy="387" r="3.1"/><circle cx="449.7" cy="391" r="3.1"/><circle cx="476" cy="381.7" r="3.1"/><circle cx="552.3" cy="392" r="3.1"/><circle cx="577" cy="395.3" r="3.1"/><circle cx="448" cy="406.7" r="3.1"/><circle cx="442" cy="412.3" r="3.1"/><circle cx="440.7" cy="419" r="3.1"/><circle cx="438.3" cy="425" r="3.1"/><circle cx="455.7" cy="406.7" r="3.1"/><circle cx="459" cy="409" r="3.1"/><circle cx="460.7" cy="414.3" r="3.1"/><circle cx="461.7" cy="411.3" r="3.1"/><circle cx="536.7" cy="402.7" r="3.1"/><circle cx="535" cy="410" r="3.1"/><circle cx="556.3" cy="412.7" r="3.1"/><circle cx="574" cy="406.7" r="3.1"/><circle cx="580.3" cy="407.7" r="3.1"/><circle cx="564" cy="441" r="3.1"/><circle cx="468.3" cy="434.3" r="3.1"/><circle cx="444.7" cy="440" r="3.1"/><circle cx="443.3" cy="445.3" r="3.1"/><circle cx="450.3" cy="449.7" r="3.1"/><circle cx="535.3" cy="446.7" r="3.1"/><circle cx="479.7" cy="449.7" r="3.1"/><circle cx="458.7" cy="454.3" r="3.1"/><circle cx="446.3" cy="458.3" r="3.1"/><circle cx="440.3" cy="462.7" r="3.1"/><circle cx="452.7" cy="463.7" r="3.1"/><circle cx="447.7" cy="468.3" r="3.1"/><circle cx="451" cy="472" r="3.1"/><circle cx="468" cy="460" r="3.1"/><circle cx="466.3" cy="463" r="3.1"/><circle cx="532.7" cy="459.3" r="3.1"/><circle cx="534.3" cy="464.3" r="3.1"/><circle cx="565.7" cy="465.3" r="3.1"/><circle cx="469" cy="472" r="3.1"/><circle cx="437.3" cy="475.7" r="3.1"/><circle cx="580" cy="477" r="3.1"/><circle cx="481.7" cy="478" r="3.1"/><circle cx="474.3" cy="481.7" r="3.1"/><circle cx="439.3" cy="487" r="3.1"/><circle cx="499.7" cy="487" r="3.1"/><circle cx="547.7" cy="484.7" r="3.1"/><circle cx="563.3" cy="484.3" r="3.1"/><circle cx="582.3" cy="490" r="3.1"/><circle cx="453" cy="490.3" r="3.1"/><circle cx="459" cy="497.7" r="3.1"/><circle cx="524.7" cy="494.3" r="3.1"/><circle cx="528" cy="494.3" r="3.1"/><circle cx="527.3" cy="499" r="3.1"/><circle cx="567" cy="497.7" r="3.1"/><circle cx="472.3" cy="502.7" r="3.1"/><circle cx="474.7" cy="500" r="3.1"/><circle cx="478" cy="500" r="3.1"/><circle cx="438.7" cy="510.7" r="3.1"/><circle cx="457.7" cy="512.7" r="3.1"/><circle cx="533.7" cy="512" r="3.1"/><circle cx="578.3" cy="516" r="3.1"/><circle cx="556" cy="518.7" r="3.1"/><circle cx="475.3" cy="521.7" r="3.1"/><circle cx="481.3" cy="518.3" r="3.1"/><circle cx="485.3" cy="515.7" r="3.1"/><circle cx="496" cy="514.7" r="3.1"/><circle cx="504.7" cy="523.3" r="3.1"/><circle cx="514.7" cy="526.3" r="3.1"/><circle cx="529.7" cy="526.7" r="3.1"/><circle cx="528" cy="533.3" r="3.1"/><circle cx="531.7" cy="537.3" r="3.1"/><circle cx="525.3" cy="537.3" r="3.1"/><circle cx="433" cy="526" r="3.1"/><circle cx="499.7" cy="528.3" r="3.1"/><circle cx="503.7" cy="531.7" r="3.1"/><circle cx="564.7" cy="530" r="3.1"/><circle cx="573" cy="535" r="3.1"/><circle cx="564.7" cy="540" r="3.1"/><circle cx="568" cy="543.3" r="3.1"/><circle cx="571.3" cy="545.3" r="3.1"/><circle cx="580.7" cy="545" r="3.1"/><circle cx="584.7" cy="546" r="3.1"/><circle cx="587" cy="545" r="3.1"/>
<circle cx="366" cy="498.7" r="3.1"/><circle cx="379" cy="499.3" r="3.1"/><circle cx="357.3" cy="528" r="3.1"/><circle cx="355" cy="538" r="3.1"/><circle cx="361.7" cy="541.7" r="3.1"/><circle cx="382.7" cy="536.7" r="3.1"/><circle cx="378.3" cy="541.7" r="3.1"/><circle cx="380" cy="545" r="3.1"/><circle cx="385" cy="541.7" r="3.1"/><circle cx="387.3" cy="537.7" r="3.1"/><circle cx="390" cy="544.3" r="3.1"/><circle cx="383.3" cy="545" r="3.1"/><circle cx="393.3" cy="499.3" r="3.1"/><circle cx="396.7" cy="501.7" r="3.1"/><circle cx="398.3" cy="515.7" r="3.1"/><circle cx="396" cy="521" r="3.1"/><circle cx="390" cy="526.7" r="3.1"/><circle cx="394.3" cy="529.3" r="3.1"/><circle cx="389.3" cy="535" r="3.1"/><circle cx="405.7" cy="506.7" r="3.1"/><circle cx="411.7" cy="507.7" r="3.1"/><circle cx="417.7" cy="507.3" r="3.1"/><circle cx="410" cy="514" r="3.1"/><circle cx="410" cy="520" r="3.1"/><circle cx="411.7" cy="531" r="3.1"/><circle cx="410.7" cy="536" r="3.1"/><circle cx="413.3" cy="538.3" r="3.1"/><circle cx="418.3" cy="534.3" r="3.1"/><circle cx="420" cy="531.7" r="3.1"/><circle cx="421.7" cy="528.3" r="3.1"/><circle cx="415" cy="526.7" r="3.1"/><circle cx="418.3" cy="544.3" r="3.1"/><circle cx="411.7" cy="543.3" r="3.1"/><circle cx="426" cy="502.3" r="3.1"/><circle cx="429.3" cy="506.7" r="3.1"/><circle cx="431.7" cy="507.7" r="3.1"/><circle cx="428.7" cy="526.7" r="3.1"/><circle cx="438.3" cy="511" r="3.1"/><circle cx="448.3" cy="505" r="3.1"/><circle cx="457.3" cy="511" r="3.1"/><circle cx="460" cy="500" r="3.1"/><circle cx="446.7" cy="496.7" r="3.1"/><circle cx="472.7" cy="501.7" r="3.1"/><circle cx="475" cy="518.3" r="3.1"/><circle cx="478.3" cy="540" r="3.1"/>
<circle cx="471.7" cy="500" r="3.1"/><circle cx="478.3" cy="500" r="3.1"/><circle cx="480" cy="518.3" r="3.1"/><circle cx="475" cy="521.7" r="3.1"/><circle cx="483.3" cy="518.3" r="3.1"/><circle cx="486" cy="516.7" r="3.1"/><circle cx="493.3" cy="525" r="3.1"/><circle cx="499.3" cy="527.3" r="3.1"/><circle cx="505" cy="523.3" r="3.1"/><circle cx="515" cy="526.7" r="3.1"/><circle cx="518.3" cy="535" r="3.1"/><circle cx="500" cy="531.7" r="3.1"/><circle cx="496.7" cy="535" r="3.1"/>
<circle cx="476.7" cy="537.7" r="3.1"/><circle cx="480" cy="536.7" r="3.1"/><circle cx="483.3" cy="538.3" r="3.1"/><circle cx="486.7" cy="537.7" r="3.1"/><circle cx="490" cy="536.7" r="3.1"/><circle cx="493.3" cy="538.3" r="3.1"/><circle cx="496.7" cy="540" r="3.1"/><circle cx="500" cy="538.3" r="3.1"/><circle cx="503.3" cy="540" r="3.1"/><circle cx="506.7" cy="541.7" r="3.1"/><circle cx="510" cy="543.3" r="3.1"/><circle cx="513.3" cy="541.7" r="3.1"/><circle cx="516.7" cy="543.3" r="3.1"/><circle cx="520" cy="541.7" r="3.1"/><circle cx="523.3" cy="543.3" r="3.1"/><circle cx="526.7" cy="543.3" r="3.1"/><circle cx="530" cy="543.3" r="3.1"/><circle cx="481.7" cy="541.7" r="3.1"/><circle cx="488.3" cy="541.7" r="3.1"/><circle cx="495" cy="543.3" r="3.1"/><circle cx="501.7" cy="544.3" r="3.1"/><circle cx="508.3" cy="545" r="3.1"/><circle cx="515" cy="545.7" r="3.1"/><circle cx="521.7" cy="545" r="3.1"/><circle cx="480" cy="545" r="3.1"/><circle cx="491.7" cy="545" r="3.1"/><circle cx="505" cy="545.7" r="3.1"/><circle cx="525" cy="536.7" r="3.1"/><circle cx="530" cy="537.7" r="3.1"/><circle cx="528.3" cy="496.7" r="3.1"/><circle cx="528.3" cy="500" r="3.1"/><circle cx="534.3" cy="511" r="3.1"/><circle cx="533.3" cy="520" r="3.1"/><circle cx="529.3" cy="526.7" r="3.1"/><circle cx="531" cy="536.7" r="3.1"/><circle cx="550.7" cy="501" r="3.1"/><circle cx="566.7" cy="497.3" r="3.1"/><circle cx="556" cy="518.3" r="3.1"/><circle cx="578.3" cy="516.7" r="3.1"/><circle cx="563.3" cy="540" r="3.1"/><circle cx="566.7" cy="541.7" r="3.1"/><circle cx="568.3" cy="545" r="3.1"/><circle cx="570" cy="546.7" r="3.1"/><circle cx="581.7" cy="545" r="3.1"/><circle cx="585" cy="545" r="3.1"/><circle cx="588.3" cy="544.3" r="3.1"/><circle cx="564" cy="536.7" r="3.1"/>
</g>
<g fill="#4D4D4D" font-size="11.7" text-anchor="end">
<text x="68.5" y="550">0</text><text x="68.5" y="453.3">1000</text><text x="68.5" y="356.7">2000</text><text x="68.5" y="260">3000</text><text x="68.5" y="163.3">4000</text><text x="68.5" y="66.7">5000</text>
</g>
<g fill="#4D4D4D" font-size="11.7" text-anchor="middle">
<text x="100" y="586">0</text><text x="245" y="586">200</text><text x="389.7" y="586">400</text><text x="534.3" y="586">600</text>
</g>
<text x="345" y="620" font-size="14.67" text-anchor="middle" fill="#000">Station ID</text>
<text transform="translate(19,307) rotate(-90)" font-size="14.67" text-anchor="middle" fill="#000">Total Trips</text>
<text x="77" y="20.5" font-size="17.6" fill="#000">Stations With Less Than 5000 Yearly Trips</text>
<text x="635.7" y="286" font-size="14.67" fill="#000">Customer Group</text>
<circle cx="646.7" cy="306.7" r="3.1" fill="#F8766D"/>
<circle cx="646.7" cy="330" r="3.1" fill="#00BFC4"/>
<text x="665" y="310.7" font-size="11.7" fill="#1A1A1A">Casual Rider</text>
<text x="665" y="334" font-size="11.7" fill="#1A1A1A">Annual Member</text>
</svg>
</body></html>
